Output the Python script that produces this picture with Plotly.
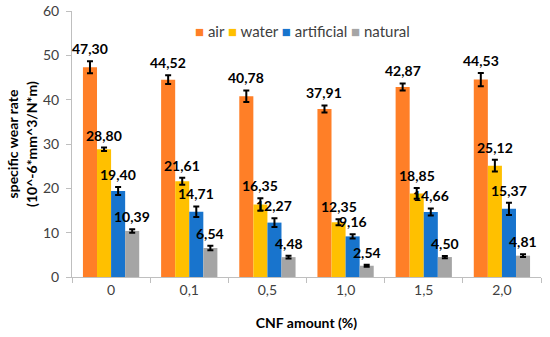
import plotly.graph_objects as go

categories = ["0", "0,1", "0,5", "1,0", "1,5", "2,0"]
series_names = ["air", "water", "artificial", "natural"]
air = [47.30, 44.52, 40.78, 37.91, 42.87, 44.53]
water = [28.80, 21.61, 16.35, 12.35, 18.85, 25.12]
artificial = [19.40, 14.71, 12.27, 9.16, 14.66, 15.37]
natural = [10.39, 6.54, 4.48, 2.54, 4.50, 4.81]
air_err = [1.35, 1.0, 1.3, 0.8, 0.8, 1.5]
water_err = [0.4, 0.8, 1.4, 0.7, 1.2, 1.3]
artificial_err = [0.9, 1.2, 1.0, 0.5, 0.8, 1.4]
natural_err = [0.4, 0.5, 0.3, 0.25, 0.25, 0.3]
colors = ["#FF7F27", "#FFC000", "#1874CD", "#A5A5A5"]

values = [air, water, artificial, natural]
errors = [air_err, water_err, artificial_err, natural_err]

xs = list(range(len(categories)))
bargap = 0.28
n = len(series_names)
bw = (1 - bargap) / n
FONT = "Lato, sans-serif"
W, H = 550, 337
ML, MR, MT, MB = 72, 9, 11, 60

fig = go.Figure()
annotations = []
for j, (name, vals, errs, col) in enumerate(zip(series_names, values, errors, colors)):
    fig.add_trace(go.Bar(
        x=xs, y=vals, name=name, marker=dict(color=col, line=dict(width=0)),
        error_y=dict(type="data", array=errs, visible=True, color="black", thickness=2, width=3),
    ))
    for i, (v, e) in enumerate(zip(vals, errs)):
        annotations.append(dict(
            x=i + (j - (n - 1) / 2) * bw, y=v + e, xref="x", yref="y",
            text="<b>" + f"{v:.2f}".replace(".", ",") + "</b>",
            showarrow=False, yanchor="bottom", yshift=2,
            font=dict(family=FONT, size=14, color="black"),
        ))

# legend drawn as one text line with coloured squares
legend_text = "&nbsp;".join(
    f"<span style='color:{c}'>■</span> {s}" for s, c in zip(series_names, colors)
)
annotations.append(dict(
    x=(193 - ML) / (W - ML - MR), y=(H - MB - 31) / (H - MT - MB),
    xref="paper", yref="paper", text=legend_text, showarrow=False,
    xanchor="left", yanchor="middle", font=dict(family=FONT, size=15, color="#404040"),
))

fig.update_layout(
    width=W, height=H,
    margin=dict(l=ML, r=MR, t=MT, b=MB, autoexpand=False),
    paper_bgcolor="white", plot_bgcolor="white",
    barmode="group", bargap=bargap, bargroupgap=0,
    font=dict(family=FONT, size=14, color="#404040"),
    annotations=annotations,
    showlegend=False,
    xaxis=dict(
        range=[-0.5, len(categories) - 0.5], automargin=False,
        tickvals=xs, ticktext=categories, ticks="", showgrid=False,
        showline=True, linecolor="#BFBFBF", linewidth=1,
        minor=dict(tick0=-0.5, dtick=1, ticks="outside", ticklen=5, tickcolor="#BFBFBF", showgrid=False),
        tickfont=dict(size=14, color="#404040"),
        title=dict(text="<b>CNF amount (%)</b>", font=dict(size=14, color="black"), standoff=21),
        zeroline=False,
    ),
    yaxis=dict(
        range=[0, 60], dtick=10, showgrid=False, automargin=False,
        showline=True, linecolor="#BFBFBF", linewidth=1,
        ticks="outside", ticklen=5, tickcolor="#BFBFBF", ticklabelstandoff=4,
        tickfont=dict(size=14, color="#404040"),
        title=dict(text="<b>specific wear rate<br>(10^-6*mm^3/N*m)</b>", font=dict(size=14, color="black"), standoff=2),
        zeroline=False,
    ),
)

fig.write_html("out.html", config={"displayModeBar": False},
               post_script="document.body.style.margin='0';")
